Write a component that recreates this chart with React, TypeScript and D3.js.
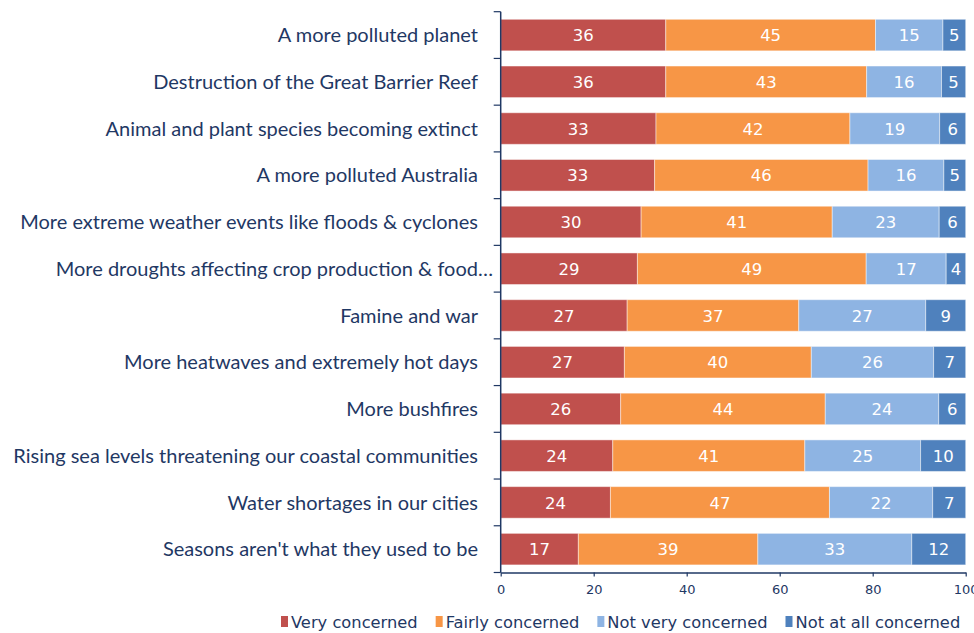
import { useEffect, useRef } from "react";
import * as d3 from "d3";

// ── Data ──────────────────────────────────────────────────────────────────────

const CATEGORIES = [
  "A more polluted planet",
  "Destruction of the Great Barrier Reef",
  "Animal and plant species becoming extinct",
  "A more polluted Australia",
  "More extreme weather events like floods & cyclones",
  "More droughts affecting crop production & food…",
  "Famine and war",
  "More heatwaves and extremely hot days",
  "More bushfires",
  "Rising sea levels threatening our coastal communities",
  "Water shortages in our cities",
  "Seasons aren't what they used to be",
];

const VERY_CONCERNED      = [35.5, 35.5, 33.4, 33.1, 30.2, 29.4, 27.2, 26.6, 25.8, 24.1, 23.6, 16.7];
const FAIRLY_CONCERNED    = [45.1, 43.2, 41.7, 45.9, 41.1, 49.2, 36.9, 40.2, 44.0, 41.3, 47.1, 38.6];
const NOT_VERY_CONCERNED  = [14.5, 16.1, 19.3, 16.3, 23.0, 17.2, 27.3, 26.3, 24.4, 24.9, 22.2, 33.1];
const NOT_AT_ALL          = [4.9, 5.2, 5.6, 4.7, 5.7, 4.2, 8.6, 6.9, 5.8, 9.7, 7.1, 11.6];

const SERIES = ["Very concerned", "Fairly concerned", "Not very concerned", "Not at all concerned"];
const X_TICKS = [0, 20, 40, 60, 80, 100];

// ── Tokens ────────────────────────────────────────────────────────────────────

const COLORS = ["#C0504D", "#F79646", "#8EB4E3", "#4F81BD"];
const NAVY = "#1F3864";
const LABEL_FONT = "Lato, 'Open Sans', sans-serif";
const NUM_FONT = "'DejaVu Sans', Verdana, sans-serif";

export default function App() {
  const svgRef = useRef<SVGSVGElement>(null);

  useEffect(() => {
    document.body.style.margin = "0";
    if (!svgRef.current) return;

    const W = 974, H = 633;
    const svg = d3.select(svgRef.current);
    svg.selectAll("*").remove();

    const rows = CATEGORIES.map((c, i) => ({
      cat: c,
      [SERIES[0]]: VERY_CONCERNED[i],
      [SERIES[1]]: FAIRLY_CONCERNED[i],
      [SERIES[2]]: NOT_VERY_CONCERNED[i],
      [SERIES[3]]: NOT_AT_ALL[i],
    })) as any[];

    const stacked = d3.stack<any>().keys(SERIES)(rows);

    const x = d3.scaleLinear().domain([0, 100]).range([500.7, 965.7]);
    const y = d3.scaleBand()
      .domain(CATEGORIES)
      .range([11.7, 572.5])
      .paddingInner(0.325)
      .paddingOuter(0.1625);

    // Bars
    stacked.forEach((layer, si) => {
      const g = svg.append("g");
      g.selectAll("rect")
        .data(layer)
        .join("rect")
        .attr("x", d => x(d[0]))
        .attr("y", d => y(d.data.cat)!)
        .attr("width", d => x(d[1]) - x(d[0]))
        .attr("height", y.bandwidth())
        .attr("fill", COLORS[si])
        .attr("stroke", "#ffffff")
        .attr("stroke-opacity", 0.45)
        .attr("stroke-width", 1);

      g.selectAll("text")
        .data(layer)
        .join("text")
        .attr("x", d => (x(d[0]) + x(d[1])) / 2)
        .attr("y", d => y(d.data.cat)! + y.bandwidth() / 2)
        .attr("dy", "0.37em")
        .attr("text-anchor", "middle")
        .attr("fill", "#ffffff")
        .attr("font-size", "16.5px")
        .attr("font-family", NUM_FONT)
        .text(d => Math.round(d[1] - d[0]));
    });

    // Y axis line + ticks at category boundaries
    const [y0, y1] = y.range();
    svg.append("line")
      .attr("x1", x(0)).attr("x2", x(0))
      .attr("y1", y0).attr("y2", y1)
      .attr("stroke", NAVY).attr("stroke-width", 1.5);

    svg.append("g")
      .selectAll("line")
      .data(d3.range(CATEGORIES.length + 1))
      .join("line")
      .attr("x1", x(0) - 7).attr("x2", x(0))
      .attr("y1", i => y0 + i * y.step())
      .attr("y2", i => y0 + i * y.step())
      .attr("stroke", NAVY).attr("stroke-width", 1.2);

    // Category labels
    svg.append("g")
      .selectAll("text")
      .data(CATEGORIES)
      .join("text")
      .attr("x", d => d.endsWith("…") ? 493 : 478)
      .attr("y", d => y(d)! + y.bandwidth() / 2)
      .attr("dy", "0.36em")
      .attr("text-anchor", "end")
      .attr("fill", NAVY)
      .attr("font-size", "20px")
      .attr("font-family", LABEL_FONT)
      .text(d => d);

    // X axis
    svg.append("g")
      .attr("transform", `translate(0,${y1})`)
      .call(d3.axisBottom(x).tickValues(X_TICKS).tickSize(4).tickSizeOuter(0))
      .call(gg => gg.select(".domain").attr("stroke", NAVY).attr("stroke-width", 1.5))
      .call(gg => gg.selectAll("line").attr("stroke", NAVY).attr("stroke-width", 1.2))
      .call(gg => gg.selectAll("text")
        .attr("fill", NAVY)
        .attr("font-size", "13px")
        .attr("font-family", NUM_FONT)
        .attr("dy", "1.1em"));

    // Legend
    const legend = svg.append("g").attr("transform", `translate(0,622)`);
    let cx = 281;
    SERIES.forEach((s, i) => {
      legend.append("rect")
        .attr("x", cx).attr("y", -6)
        .attr("width", 7).attr("height", 11)
        .attr("fill", COLORS[i]);
      const t = legend.append("text")
        .attr("x", cx + 10)
        .attr("y", 0)
        .attr("dy", "0.36em")
        .attr("fill", NAVY)
        .attr("font-size", "16.3px")
        .attr("font-family", NUM_FONT)
        .text(s);
      const w = (t.node() as SVGTextElement).getComputedTextLength();
      cx += 10 + w + 18;
    });

    svg.attr("viewBox", `0 0 ${W} ${H}`);
  }, []);

  return <svg ref={svgRef} width={974} height={633} style={{ display: "block" }} />;
}
